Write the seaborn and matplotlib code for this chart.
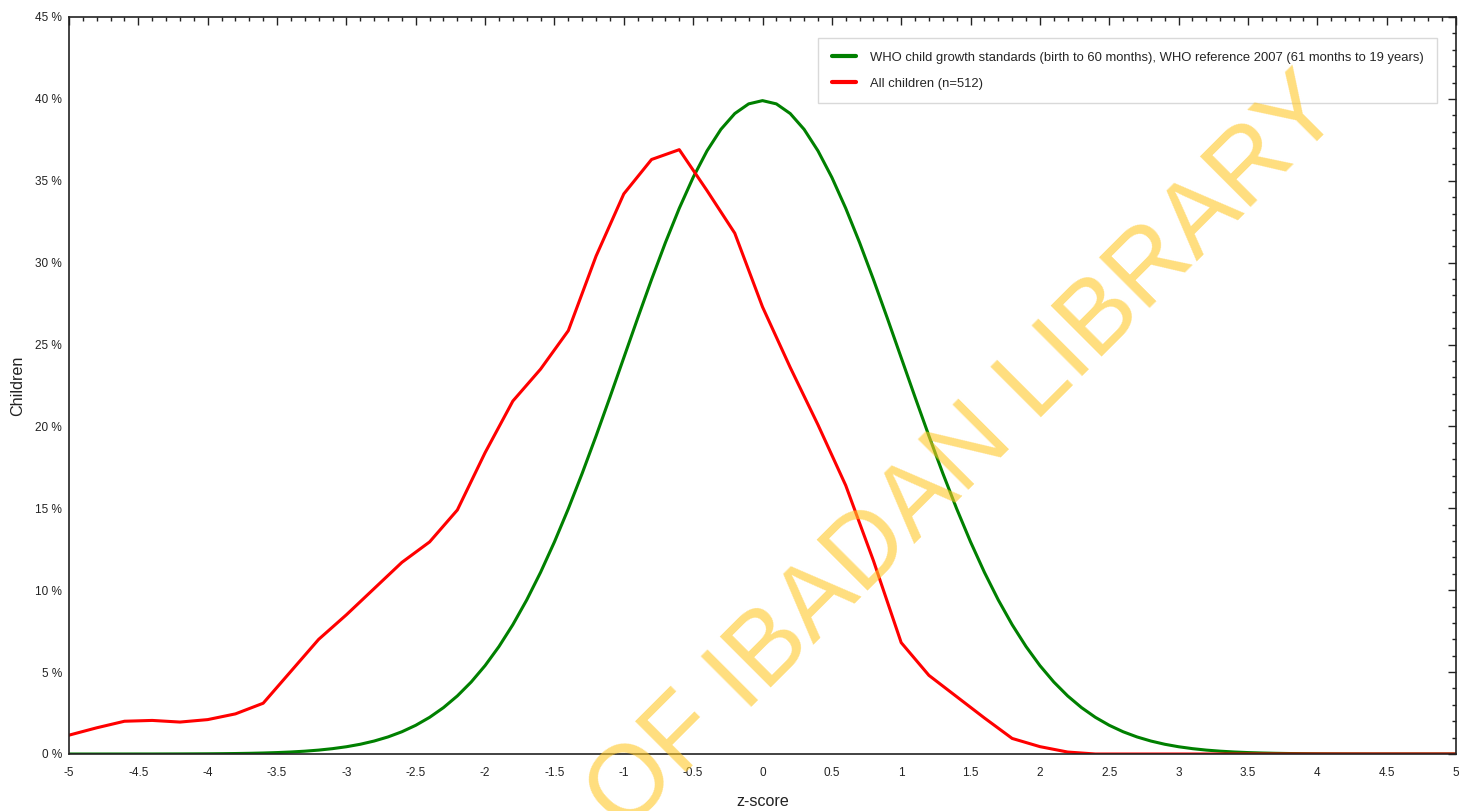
import numpy as np
import pandas as pd
import seaborn as sns
import matplotlib.pyplot as plt
from matplotlib.ticker import MultipleLocator, FuncFormatter

# ==========================================
# Data
# ==========================================

# WHO reference curve, z-score grid -5..5 in steps of 0.1
who_z = np.round(np.linspace(-5, 5, 101), 1)
who_pct = [
    0.000, 0.000, 0.000, 0.001, 0.001, 0.002, 0.002, 0.004, 0.006, 0.009,
    0.013, 0.020, 0.029, 0.042, 0.061, 0.087, 0.123, 0.172, 0.238, 0.327,
    0.443, 0.595, 0.792, 1.042, 1.358, 1.753, 2.239, 2.833, 3.547, 4.398,
    5.399, 6.562, 7.895, 9.405, 11.092, 12.952, 14.973, 17.137, 19.419, 21.785,
    24.197, 26.609, 28.969, 31.225, 33.322, 35.207, 36.827, 38.139, 39.104, 39.695,
    39.894,
    39.695, 39.104, 38.139, 36.827, 35.207, 33.322, 31.225, 28.969, 26.609, 24.197,
    21.785, 19.419, 17.137, 14.973, 12.952, 11.092, 9.405, 7.895, 6.562, 5.399,
    4.398, 3.547, 2.833, 2.239, 1.753, 1.358, 1.042, 0.792, 0.595, 0.443,
    0.327, 0.238, 0.172, 0.123, 0.087, 0.061, 0.042, 0.029, 0.020, 0.013,
    0.009, 0.006, 0.004, 0.002, 0.002, 0.001, 0.001, 0.000, 0.000, 0.000,
]

# sample curve, z-score grid -5..5 in steps of 0.2
sample_z = np.round(np.linspace(-5, 5, 51), 1)
sample_pct = [
    1.15, 1.6, 2.0, 2.05, 1.95, 2.1, 2.45, 3.1, 5.05, 7.0,
    8.5, 10.1, 11.7, 12.95, 14.9, 18.4, 21.55, 23.5, 25.85, 30.4,
    34.2, 36.3, 36.9, 34.4, 31.8, 27.3, 23.6, 20.1, 16.4, 11.8,
    6.8, 4.8, 3.5, 2.2, 0.95, 0.45, 0.12, 0.0, 0.0, 0.0,
    0.0, 0.0, 0.0, 0.0, 0.0, 0.0, 0.0, 0.0, 0.0, 0.0, 0.0,
]

who_label = "WHO child growth standards (birth to 60 months), WHO reference 2007 (61 months to 19 years)"
sample_label = "All children (n=512)"

df = pd.concat([
    pd.DataFrame({"z": who_z, "pct": who_pct, "series": who_label}),
    pd.DataFrame({"z": sample_z, "pct": sample_pct, "series": sample_label}),
], ignore_index=True)

# ==========================================
# Plot
# ==========================================

sns.set_style("white")
plt.rcParams["font.family"] = ["Liberation Sans", "DejaVu Sans"]

fig = plt.figure(figsize=(14.59, 8.11), dpi=100)
ax = fig.add_axes([69 / 1459, 1 - 754 / 811, (1456 - 69) / 1459, (754 - 17) / 811])

sns.lineplot(data=df, x="z", y="pct", hue="series",
             palette={who_label: "#008000", sample_label: "#ff0000"},
             hue_order=[who_label, sample_label],
             linewidth=2.2, sort=False, estimator=None, ax=ax)

ax.set_xlim(-5, 5)
ax.set_ylim(0, 45)
ax.xaxis.set_major_locator(MultipleLocator(0.5))
ax.xaxis.set_minor_locator(MultipleLocator(0.1))
ax.yaxis.set_major_locator(MultipleLocator(5))
ax.yaxis.set_minor_locator(MultipleLocator(1))
ax.xaxis.set_major_formatter(FuncFormatter(lambda v, p: f"{v:g}"))
ax.yaxis.set_major_formatter(FuncFormatter(lambda v, p: f"{v:g} %"))

ax.tick_params(which="both", direction="in", top=True, right=True,
               width=1.0, color="#222222", labelsize=8.5, labelcolor="#222222")
ax.tick_params(which="major", length=6)
ax.tick_params(which="minor", length=3)
ax.tick_params(axis="x", which="major", pad=9)
ax.tick_params(axis="y", which="major", pad=5)
for s in ax.spines.values():
    s.set_color("#222222")
    s.set_linewidth(1.2)

ax.set_xlabel("z-score", fontsize=11.6, color="#222222", labelpad=11)
ax.set_ylabel("Children", fontsize=11.6, color="#222222", labelpad=7)

leg = ax.legend(loc="upper right", bbox_to_anchor=((1437 - 69) / 1387, (754 - 38) / 737),
                borderaxespad=0, fontsize=9.4, frameon=True, fancybox=False,
                handlelength=1.9, labelspacing=1.05, borderpad=1.05, handletextpad=1.0)
leg.get_frame().set_edgecolor("#d0d0d0")
leg.get_frame().set_linewidth(1.0)
for line in leg.get_lines():
    line.set_linewidth(3)

# library watermark
fig.text(985 / 1459, 1 - 474 / 811, "OF IBADAN LIBRARY", rotation=45,
         rotation_mode="anchor", ha="center", va="baseline",
         fontsize=74, color="#ffc828", alpha=0.6, zorder=10)

plt.savefig("out.png", dpi=100)
